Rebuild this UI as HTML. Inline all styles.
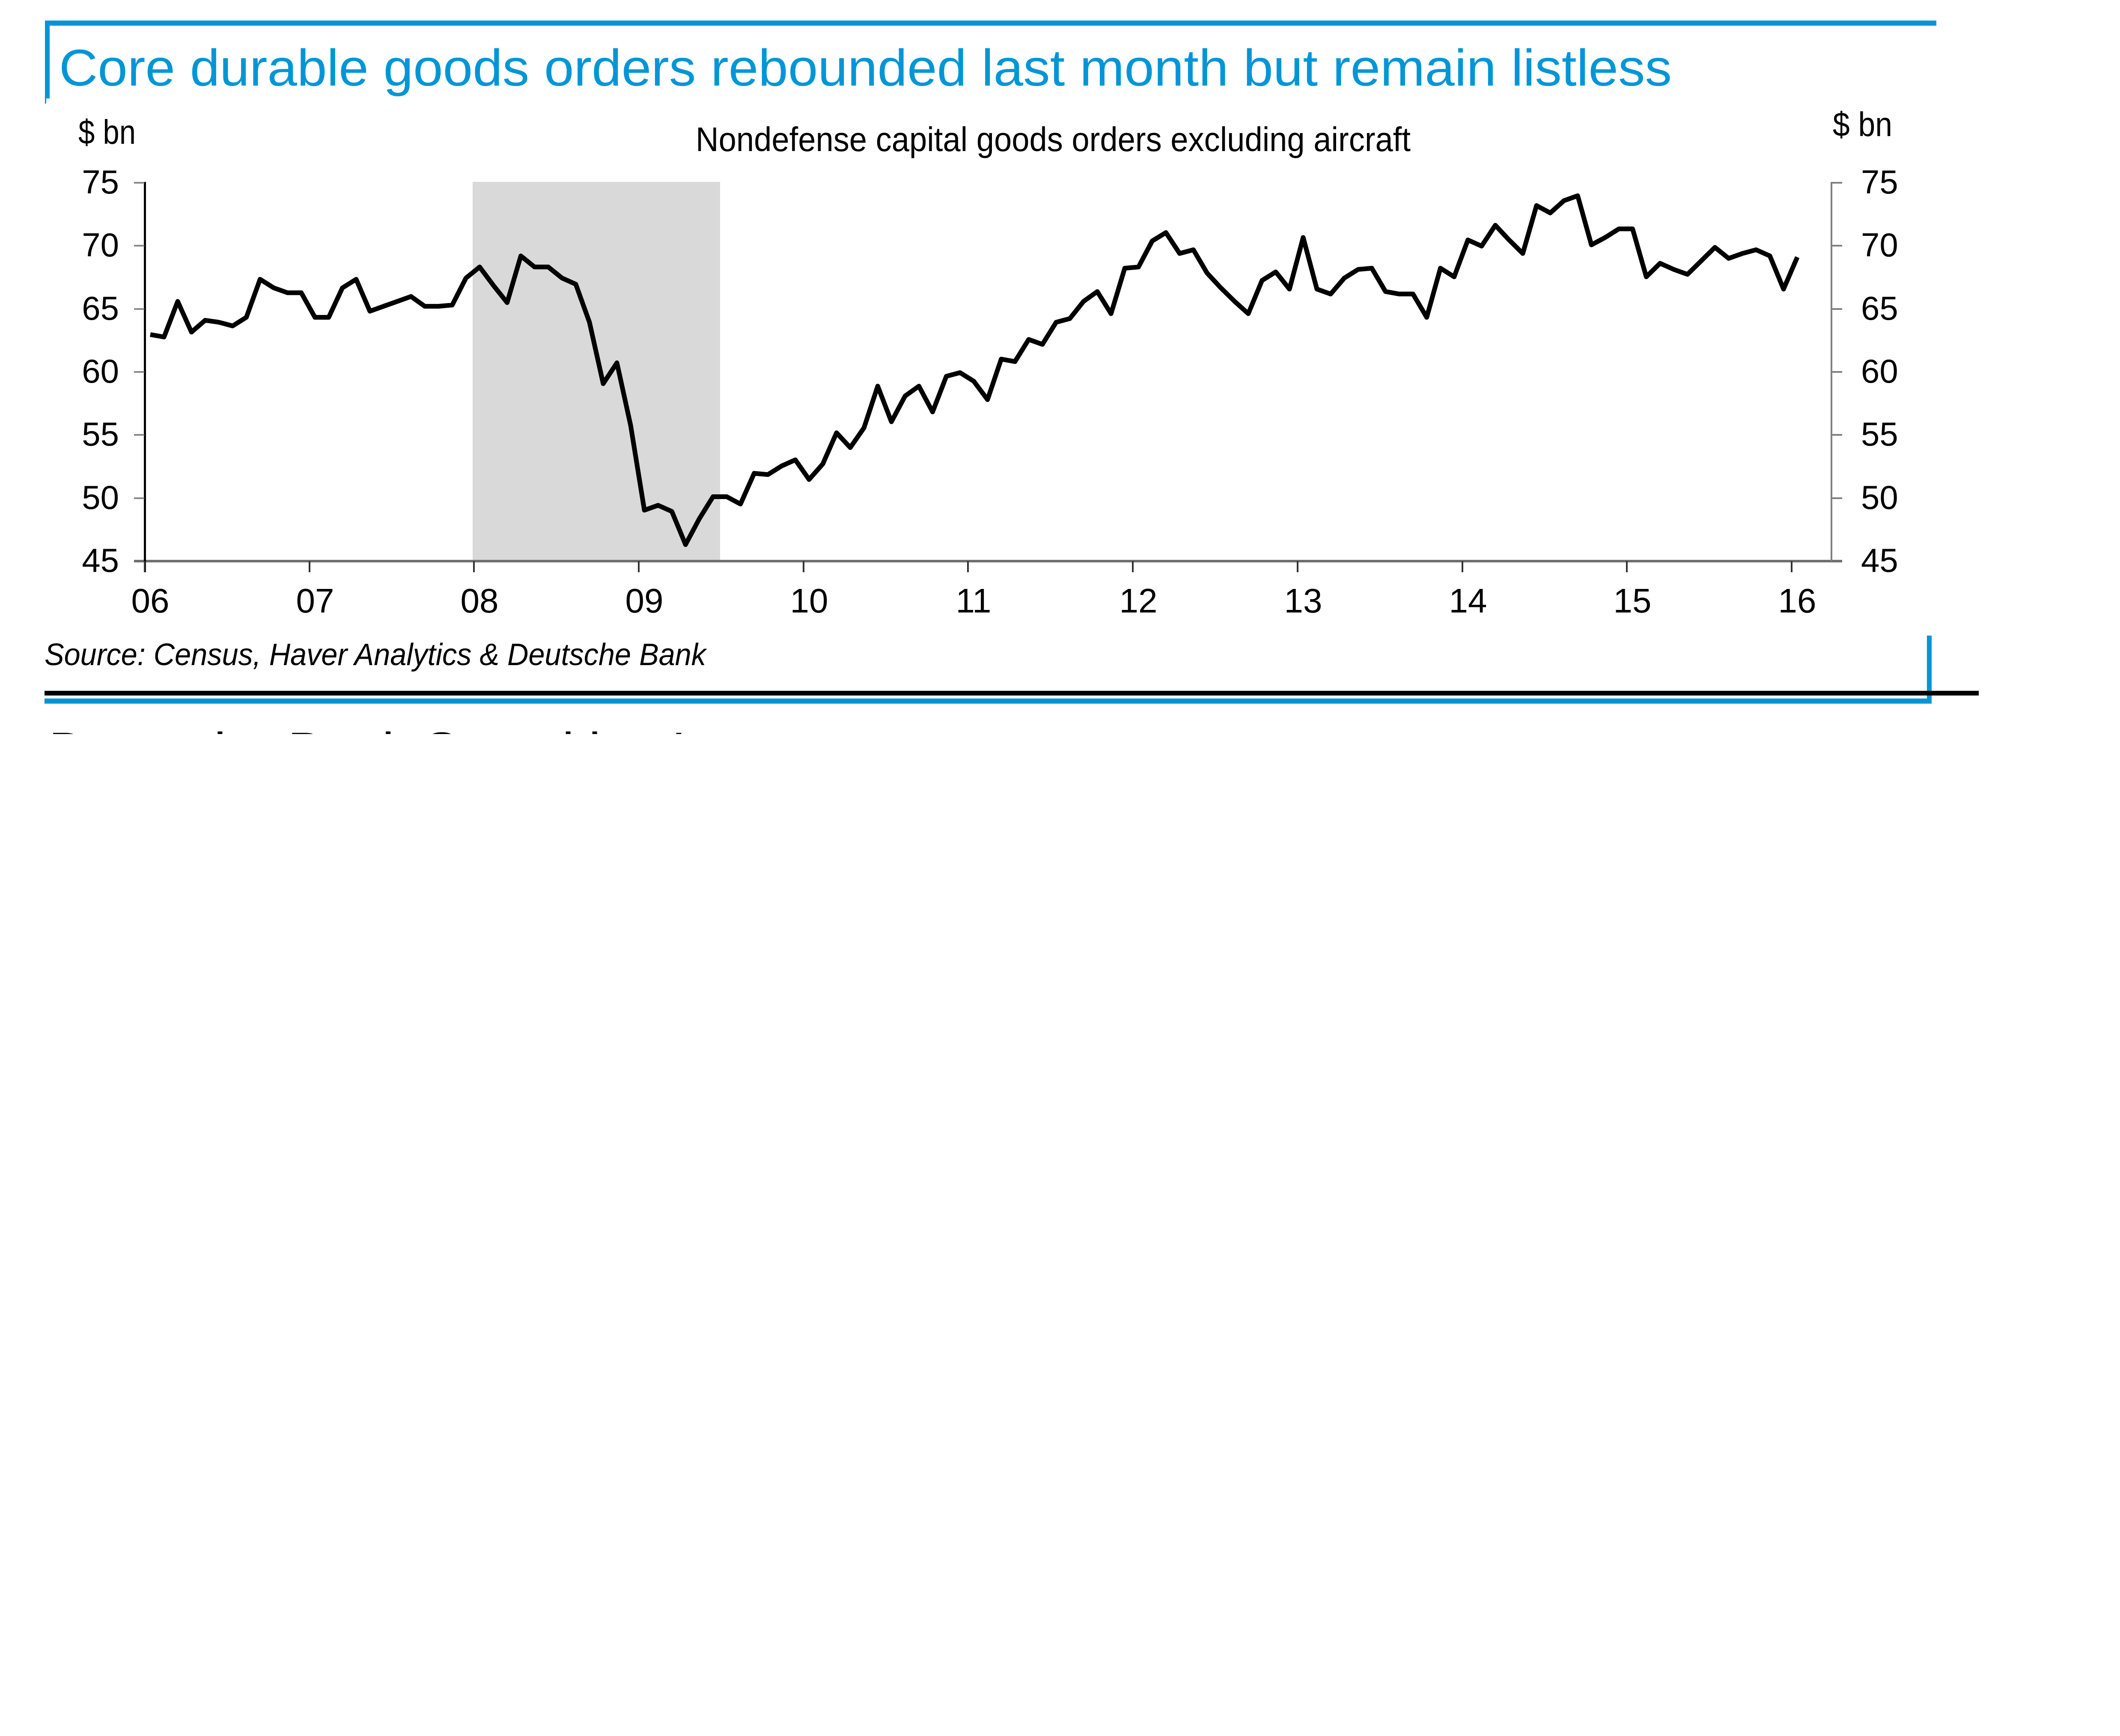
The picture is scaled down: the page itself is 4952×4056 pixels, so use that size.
<!DOCTYPE html>
<html>
<head>
<meta charset="utf-8">
<style>
  html, body { margin:0; padding:0; background:#ffffff; }
  body { width:4952px; height:4056px; overflow:hidden; }
  svg { display:block; }
  text { font-family:"Liberation Sans", Arial, sans-serif; }
</style>
</head>
<body>
<svg width="4952" height="4056" viewBox="0 0 4952 4056" xmlns="http://www.w3.org/2000/svg">
  <rect x="0" y="0" width="4952" height="4056" fill="#ffffff"/>

  <!-- top frame -->
  <rect x="105" y="48" width="4418" height="12" fill="#0096d6"/>
  <rect x="105" y="48" width="11" height="182" fill="#0096d6"/>
  <rect x="105" y="230" width="3" height="12" fill="#0096d6"/>

  <!-- title -->
  <text x="138" y="200" font-size="121" fill="#0096d6" textLength="3767" lengthAdjust="spacingAndGlyphs">Core durable goods orders rebounded last month but remain listless</text>

  <!-- unit labels -->
  <text x="183" y="336" font-size="80" fill="#000" textLength="134" lengthAdjust="spacingAndGlyphs">$ bn</text>
  <text x="4281" y="318" font-size="80" fill="#000" textLength="139" lengthAdjust="spacingAndGlyphs">$ bn</text>

  <!-- subtitle -->
  <text x="1625" y="353" font-size="80" fill="#000" textLength="1670" lengthAdjust="spacingAndGlyphs">Nondefense capital goods orders excluding aircraft</text>

  <!-- recession shading -->
  <rect x="1104" y="425" width="578" height="886" fill="#d9d9d9"/>

  <!-- x axis -->
  <rect x="313" y="1308" width="3990" height="6" fill="#707070"/>

  <!-- left axis -->
  <rect x="336" y="425" width="5" height="912" fill="#000"/>
  <g fill="#888">
    <rect x="313" y="425" width="24" height="4"/>
    <rect x="313" y="572" width="24" height="4"/>
    <rect x="313" y="720" width="24" height="4"/>
    <rect x="313" y="867" width="24" height="4"/>
    <rect x="313" y="1014" width="24" height="4"/>
    <rect x="313" y="1162" width="24" height="4"/>
  </g>

  <!-- right axis -->
  <rect x="4276" y="425" width="4" height="886" fill="#808080"/>
  <g fill="#808080">
    <rect x="4278" y="425" width="25" height="4"/>
    <rect x="4278" y="572" width="25" height="4"/>
    <rect x="4278" y="720" width="25" height="4"/>
    <rect x="4278" y="867" width="25" height="4"/>
    <rect x="4278" y="1014" width="25" height="4"/>
    <rect x="4278" y="1162" width="25" height="4"/>
  </g>

  <!-- y labels left -->
  <g font-size="78" fill="#000" text-anchor="end">
    <text x="278" y="452">75</text>
    <text x="278" y="599">70</text>
    <text x="278" y="747">65</text>
    <text x="278" y="894">60</text>
    <text x="278" y="1041">55</text>
    <text x="278" y="1189">50</text>
    <text x="278" y="1336">45</text>
  </g>
  <!-- y labels right -->
  <g font-size="78" fill="#000" text-anchor="start">
    <text x="4347" y="452">75</text>
    <text x="4347" y="599">70</text>
    <text x="4347" y="747">65</text>
    <text x="4347" y="894">60</text>
    <text x="4347" y="1041">55</text>
    <text x="4347" y="1189">50</text>
    <text x="4347" y="1336">45</text>
  </g>

  <!-- x ticks -->
  <g fill="#333">
    <rect x="336" y="1311" width="4" height="26"/>
    <rect x="721" y="1311" width="4" height="26"/>
    <rect x="1105" y="1311" width="4" height="26"/>
    <rect x="1490" y="1311" width="4" height="26"/>
    <rect x="1875" y="1311" width="4" height="26"/>
    <rect x="2259" y="1311" width="4" height="26"/>
    <rect x="2644" y="1311" width="4" height="26"/>
    <rect x="3029" y="1311" width="4" height="26"/>
    <rect x="3414" y="1311" width="4" height="26"/>
    <rect x="3798" y="1311" width="4" height="26"/>
    <rect x="4183" y="1311" width="4" height="26"/>
  </g>

  <!-- x labels -->
  <g font-size="80" fill="#000" text-anchor="middle">
    <text x="351" y="1431">06</text>
    <text x="736" y="1431">07</text>
    <text x="1120" y="1431">08</text>
    <text x="1505" y="1431">09</text>
    <text x="1890" y="1431">10</text>
    <text x="2274" y="1431">11</text>
    <text x="2659" y="1431">12</text>
    <text x="3044" y="1431">13</text>
    <text x="3429" y="1431">14</text>
    <text x="3813" y="1431">15</text>
    <text x="4198" y="1431">16</text>
  </g>

  <!-- series -->
  <polyline fill="none" stroke="#000" stroke-width="11" stroke-linejoin="round" stroke-linecap="butt" points="
351.0,781.6 383.1,787.4 415.1,704.2 447.2,775.9 479.2,748.3 511.3,752.9 543.4,761.5 575.4,741.4
607.5,652.5 639.5,672.6 671.6,684 703.7,684 735.7,741.4 767.8,741.4 799.8,672.6 831.9,652.5
864.0,727.1 896.0,715.6 928.1,704.2 960.1,692.7 992.2,715.6 1024.3,715.6 1056.3,712.7 1088.4,649.6
1120.4,623.8 1152.5,666.8 1184.6,707 1216.6,597.9 1248.7,623.8 1280.7,623.8 1312.8,649.6 1344.9,664
1376.9,752.9 1409.0,896.4 1441.0,847.6 1473.1,994 1505.2,1192 1537.2,1180.6 1569.3,1194.9 1601.3,1272.4
1633.4,1212.1 1665.5,1160.5 1697.5,1160.5 1729.6,1177.7 1761.6,1105.9 1793.7,1108.8 1825.8,1088.7 1857.8,1074.4
1889.9,1120.3 1921.9,1084 1954.0,1011.2 1986.1,1045.7 2018.1,999.7 2050.2,902.2 2082.2,985.4 2114.3,925.1
2146.4,902.2 2178.4,962.4 2210.5,879.2 2242.5,870.6 2274.6,890.7 2306.7,933.7 2338.7,839 2370.8,844.8
2402.8,793.1 2434.9,804.6 2467.0,752.9 2499.0,744.3 2531.1,704.1 2563.1,681.2 2595.2,732.8 2627.3,626.6
2659.3,623.8 2691.4,563 2723.4,543.4 2755.5,592.2 2787.6,583.6 2819.6,638 2851.7,672.6 2883.7,704
2915.8,732.8 2947.9,655.3 2979.9,635.3 3012.0,675.4 3044.0,554.9 3076.1,675.4 3108.2,686.9 3140.2,649.6
3172.3,629.5 3204.3,626.6 3236.4,681.2 3268.5,686.9 3300.5,686.9 3332.6,741.4 3364.6,626.6 3396.7,646.7
3428.8,560.6 3460.8,575 3492.9,526.2 3524.9,560.6 3557.0,592.2 3589.1,480.3 3621.1,497.5 3653.2,468.8
3685.2,457.3 3717.3,572.1 3749.4,554.9 3781.4,534.8 3813.5,534.8 3845.5,646.7 3877.6,615.2 3909.7,629.5
3941.7,641 3973.8,609.4 4005.8,577.9 4037.9,603.7 4070.0,592.2 4102.0,583.6 4134.1,597.9 4166.1,675.4
4198.2,600.8"/>

  <!-- source -->
  <text x="104" y="1554" font-size="72" font-style="italic" fill="#000" textLength="1545" lengthAdjust="spacingAndGlyphs">Source: Census, Haver Analytics &amp; Deutsche Bank</text>

  <!-- bottom frame -->
  <rect x="4501" y="1485" width="11" height="159" fill="#0096d6"/>
  <rect x="104" y="1614" width="4518" height="11" fill="#000"/>
  <rect x="104" y="1632" width="4408" height="12" fill="#0096d6"/>

  <!-- partially visible next heading -->
  <defs>
    <clipPath id="cut">
      <rect x="0" y="1709" width="4952" height="6"/>
    </clipPath>
  </defs>
  <g clip-path="url(#cut)">
    <text x="114" y="1798" font-size="124" fill="#000">Deutsche Bank Securities Inc.</text>
  </g>
</svg>
</body>
</html>
